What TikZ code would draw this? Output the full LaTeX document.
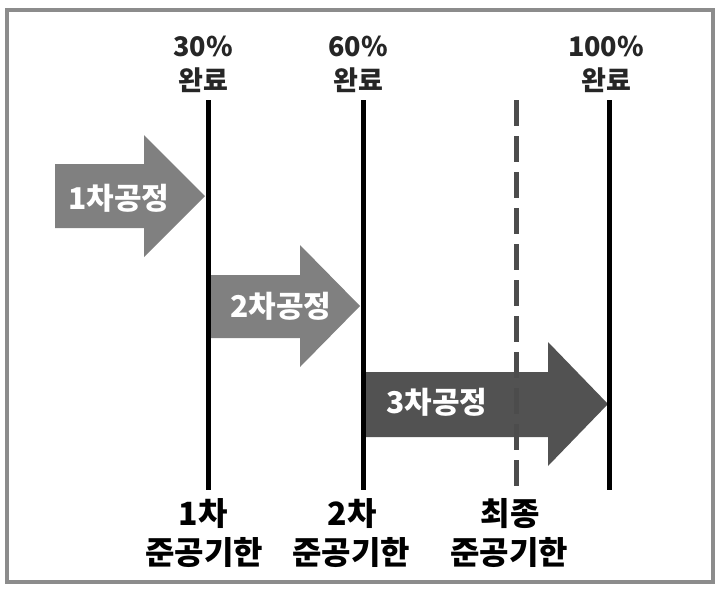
\documentclass[tikz,border=0pt]{standalone}
\usepackage{fontspec}
\setmainfont{Noto Sans CJK KR}
\begin{document}
\begin{tikzpicture}[x=1pt,y=-1pt,
  lbl/.style={font=\fontsize{27}{30}\selectfont\bfseries, text=black!85, inner sep=0pt, anchor=center},
  dlbl/.style={font=\fontsize{32}{34}\selectfont\bfseries, text=black, inner sep=0pt, anchor=center},
  arrtxt/.style={font=\fontsize{30}{32}\selectfont\bfseries, text=white, inner sep=0pt, anchor=center},
  milestone/.style={line width=5pt, black},
  deadline/.style={line width=5pt, black!70, dash pattern=on 26pt off 10pt},
  arrA/.style={fill=black!50},
  arrB/.style={fill=black!68}]
\useasboundingbox (0,0) rectangle (720,592);
\fill[white] (0,0) rectangle (720,592);
\draw[line width=4pt, black!45] (7,10) rectangle (713,582);

% milestone line end points
\coordinate (l1t) at (208,100); \coordinate (l1b) at (208,490);
\coordinate (l2t) at (363,100); \coordinate (l2b) at (363,490);
\coordinate (ldt) at (516,100); \coordinate (ldb) at (516,490);
\coordinate (l3t) at (609,100); \coordinate (l3b) at (609,490);

% arrows (drawn first, lines on top)
\fill[arrA] (55,164) -- (144,164) -- (144,135) -- (205,196) -- (144,257) -- (144,228) -- (55,228) -- cycle;
\fill[arrA] (208,275) -- (300,275) -- (300,245) -- (360,306) -- (300,367) -- (300,338) -- (208,338) -- cycle;
\fill[arrB] (363,372) -- (548,372) -- (548,342) -- (608,404) -- (548,466) -- (548,437) -- (363,437) -- cycle;

\draw[milestone] (l1t) -- (l1b);
\draw[milestone] (l2t) -- (l2b);
\draw[deadline] (ldt) -- (ldb);
\draw[milestone] (l3t) -- (l3b);

\node[arrtxt] (a1) at (119,198) {1차공정};
\node[arrtxt] (a2) at (281,306) {2차공정};
\node[arrtxt] (a3) at (437,402) {3차공정};

\node[lbl] (p1) at (203,46) {30\%};
\node[lbl] (c1) at (203,80) {완료};
\node[lbl] (p2) at (358,46) {60\%};
\node[lbl] (c2) at (358,80) {완료};
\node[lbl] (p3) at (606,46) {100\%};
\node[lbl] (c3) at (606,80) {완료};

\node[dlbl] (d1) at (203,514) {1차};
\node[dlbl] (e1) at (204,553) {준공기한};
\node[dlbl] (d2) at (352,514) {2차};
\node[dlbl] (e2) at (351,553) {준공기한};
\node[dlbl] (d3) at (510,514) {최종};
\node[dlbl] (e3) at (509,553) {준공기한};
\end{tikzpicture}
\end{document}
